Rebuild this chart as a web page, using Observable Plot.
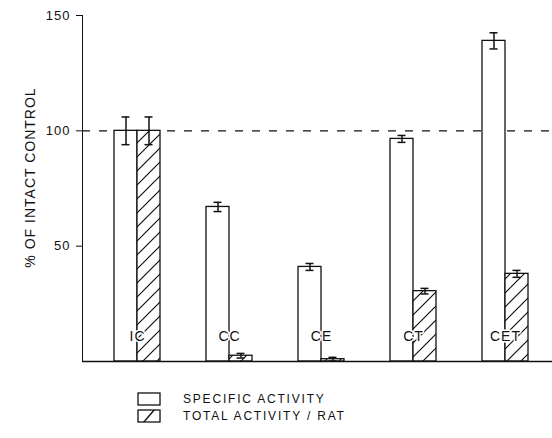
<!DOCTYPE html>
<html>
<head>
<meta charset="utf-8">
<script src="https://cdn.jsdelivr.net/npm/d3@7"></script>
<script src="https://cdn.jsdelivr.net/npm/@observablehq/plot@0.6"></script>
<style>
  html, body { margin: 0; padding: 0; background: white; }
  #chart svg { display: block; }
  .legend { font-family: "Liberation Sans", Arial, sans-serif; font-size: 12px; letter-spacing: 1.8px; color: #111; padding-left: 137px; margin-top: 17px; }
  .legend .row { display: flex; align-items: center; height: 13px; margin-bottom: 4px; }
  .legend svg { display: block; margin-right: 22px; }
</style>
</head>
<body>
<div id="chart"></div>
<script>
const categories = ["IC", "CC", "CE", "CT", "CET"];
const specificActivity = [100, 67, 41, 96.5, 139];
const specificError = [6, 2, 1.5, 1.5, 3.5];
const totalActivity = [100, 2.5, 1, 30.5, 38];
const totalError = [6, 1, 0.8, 1.2, 1.5];
const yTicks = [50, 100, 150];
const referenceLevel = [100];
const yLabel = "% OF INTACT CONTROL";
const legendLabels = ["SPECIFIC ACTIVITY", "TOTAL ACTIVITY / RAT"];

const rows = categories.map((c, i) => ({
  cat: c,
  spec: specificActivity[i], specErr: specificError[i],
  tot: totalActivity[i], totErr: totalError[i]
}));

const font = "'Liberation Sans', Arial, sans-serif";
const chart = Plot.plot({
  width: 552,
  height: 375,
  marginLeft: 82,
  marginRight: 0,
  marginTop: 15,
  marginBottom: 14,
  style: { fontFamily: font, fontSize: "13px", background: "white", color: "#111", letterSpacing: "1px" },
  x: { domain: categories, paddingInner: 0.5, paddingOuter: 0.3043, align: 0.571, axis: null },
  y: { domain: [0, 150], ticks: yTicks, tickSize: 6, tickPadding: 6, line: true, label: null, tickFormat: d => String(d) },
  marks: [
    Plot.ruleY(referenceLevel, { stroke: "#111", strokeWidth: 1.3, strokeDasharray: "8,9" }),
    Plot.barY(rows, { x: "cat", y: "spec", fill: "white", stroke: "#111", strokeWidth: 1.3, insetRight: 23 }),
    Plot.barY(rows, { x: "cat", y: "tot", fill: "url(#hatch)", stroke: "#111", strokeWidth: 1.3, insetLeft: 23 }),
    Plot.ruleX(rows, { x: "cat", y1: d => d.spec - d.specErr, y2: d => d.spec + d.specErr, dx: -11.5, stroke: "#111", strokeWidth: 1.5 }),
    Plot.tickY(rows, { x: "cat", y: d => d.spec - d.specErr, insetLeft: 7.5, insetRight: 30.5, stroke: "#111", strokeWidth: 1.5 }),
    Plot.tickY(rows, { x: "cat", y: d => d.spec + d.specErr, insetLeft: 7.5, insetRight: 30.5, stroke: "#111", strokeWidth: 1.5 }),
    Plot.ruleX(rows, { x: "cat", y1: d => d.tot - d.totErr, y2: d => d.tot + d.totErr, dx: 11.5, stroke: "#111", strokeWidth: 1.5 }),
    Plot.tickY(rows, { x: "cat", y: d => d.tot - d.totErr, insetLeft: 30.5, insetRight: 7.5, stroke: "#111", strokeWidth: 1.5 }),
    Plot.tickY(rows, { x: "cat", y: d => d.tot + d.totErr, insetLeft: 30.5, insetRight: 7.5, stroke: "#111", strokeWidth: 1.5 }),
    Plot.text(categories, { x: d => d, frameAnchor: "bottom", dy: -21, fontSize: 14, fill: "#111", stroke: "white", strokeWidth: 3 }),
    Plot.ruleY([0], { stroke: "#111", strokeWidth: 1.6 }),
    Plot.text([yLabel], { frameAnchor: "left", textAnchor: "middle", dx: -52, dy: -11, rotate: -90, fontSize: 14, fill: "#111" })
  ]
});

const svg = d3.select(chart);
const defs = svg.insert("defs", ":first-child");
const pat = defs.append("pattern").attr("id", "hatch").attr("patternUnits", "userSpaceOnUse")
  .attr("width", 14).attr("height", 14);
pat.append("rect").attr("width", 14).attr("height", 14).attr("fill", "white");
pat.append("path").attr("d", "M-2,16 L16,-2 M-2,2 L2,-2 M12,16 L16,12").attr("stroke", "#111").attr("stroke-width", 1.2);

document.getElementById("chart").appendChild(chart);

// legend
const legend = d3.select("body").append("div").attr("class", "legend");
legendLabels.forEach((lab, i) => {
  const row = legend.append("div").attr("class", "row");
  const s = row.append("svg").attr("width", 24).attr("height", 14);
  if (i === 1) {
    const d2 = s.append("defs").append("pattern").attr("id", "hatchL").attr("patternUnits", "userSpaceOnUse").attr("width", 24).attr("height", 14);
    d2.append("rect").attr("width", 24).attr("height", 14).attr("fill", "white");
    d2.append("path").attr("d", "M6,14 L18,0").attr("stroke", "#111").attr("stroke-width", 1.4);
  }
  s.append("rect").attr("x", 1).attr("y", 1).attr("width", 22).attr("height", 12)
    .attr("fill", i === 1 ? "url(#hatchL)" : "white").attr("stroke", "#111").attr("stroke-width", 1.3);
  row.append("span").text(lab);
});
</script>
</body>
</html>
